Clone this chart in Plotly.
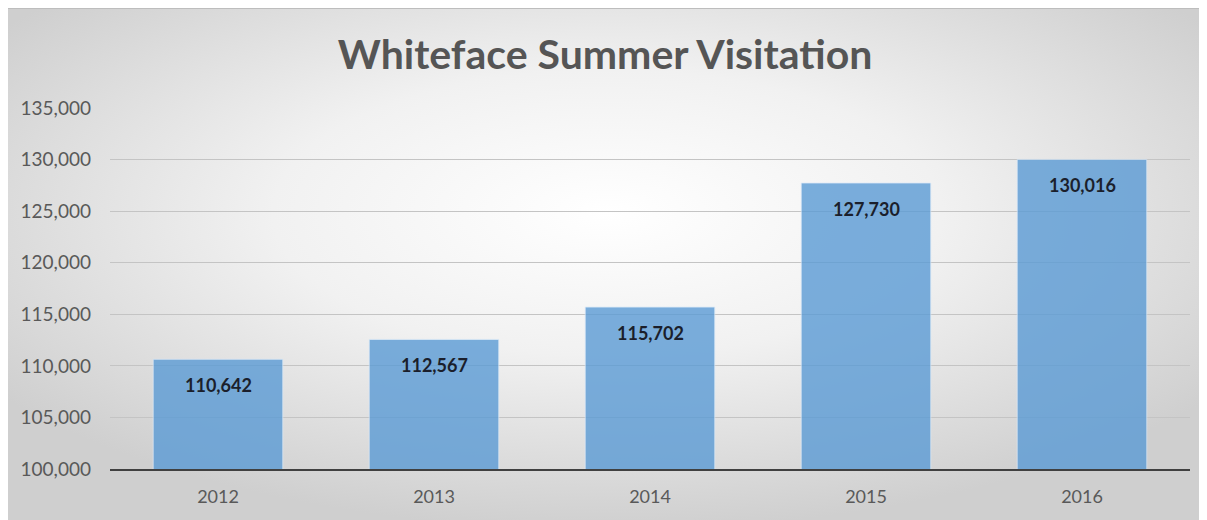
import base64
import plotly.graph_objects as go

years = ["2012", "2013", "2014", "2015", "2016"]
visitors = [110642, 112567, 115702, 127730, 130016]
y_ticks = [100000, 105000, 110000, 115000, 120000, 125000, 130000, 135000]

# page has an 8px body margin; figure occupies page (8,8)-(1207,520)
W, H = 1199, 512
ml, mr, mt, mb = 102, 17, 100, 51
pw, ph = W - ml - mr, H - mt - mb

svg = ("<svg xmlns='http://www.w3.org/2000/svg' width='1199' height='512' preserveAspectRatio='none'>"
       "<defs><radialGradient id='g' cx='50%' cy='40%' r='62%'>"
       "<stop offset='0' stop-color='#ffffff'/><stop offset='0.45' stop-color='#f1f1f1'/>"
       "<stop offset='1' stop-color='#cfcfcf'/></radialGradient></defs>"
       "<rect width='100%' height='100%' fill='url(#g)'/></svg>")
src = "data:image/svg+xml;base64," + base64.b64encode(svg.encode()).decode()

fig = go.Figure()
fig.add_trace(go.Bar(
    x=years, y=visitors,
    marker=dict(color="#5B9BD5", opacity=0.8, line=dict(color="rgba(220,235,250,0.8)", width=1)),
    hoverinfo="x+y",
))

# category axis: annotation x given as category index
annotations = [
    dict(x=i, y=v, xref="x", yref="y", text=f"<b>{v:,}</b>", showarrow=False,
         yanchor="middle", yshift=-26,
         font=dict(family="Lato", size=18, color="#1b1f2c"))
    for i, v in enumerate(visitors)
]

fig.update_layout(
    width=W, height=H,
    margin=dict(l=ml, r=mr, t=mt, b=mb),
    paper_bgcolor="white", plot_bgcolor="rgba(0,0,0,0)",
    bargap=0.4, showlegend=False,
    title=dict(text="<b>Whiteface Summer Visitation</b>", x=0.498, xanchor="center",
               y=1 - 47 / H, yanchor="middle",
               font=dict(family="Lato", size=41, color="#555555")),
    annotations=annotations,
    images=[dict(source=src, xref="paper", yref="paper",
                 x=-ml / pw, y=(H - mb) / ph, sizex=W / pw, sizey=H / ph,
                 sizing="stretch", layer="below", xanchor="left", yanchor="top")],
    shapes=[dict(type="line", xref="paper", yref="paper",
                 x0=-ml / pw, x1=(W - ml) / pw, y0=(H - mb - 0.5) / ph, y1=(H - mb - 0.5) / ph,
                 line=dict(color="#bdbdbd", width=1))],
    xaxis=dict(type="category", range=[-0.5, len(years) - 0.5],
               showline=True, linecolor="#404040", linewidth=2, showgrid=False,
               ticks="", ticklabelstandoff=10,
               tickfont=dict(family="Lato", size=18, color="#595959")),
    yaxis=dict(range=[100000, 135000], tickvals=y_ticks, tickformat=",",
               showgrid=True, gridcolor="#c4c4c4", gridwidth=1, zeroline=False,
               ticks="", ticklabelstandoff=18,
               tickfont=dict(family="Lato", size=19, color="#595959")),
)
fig.write_html("out.html")
